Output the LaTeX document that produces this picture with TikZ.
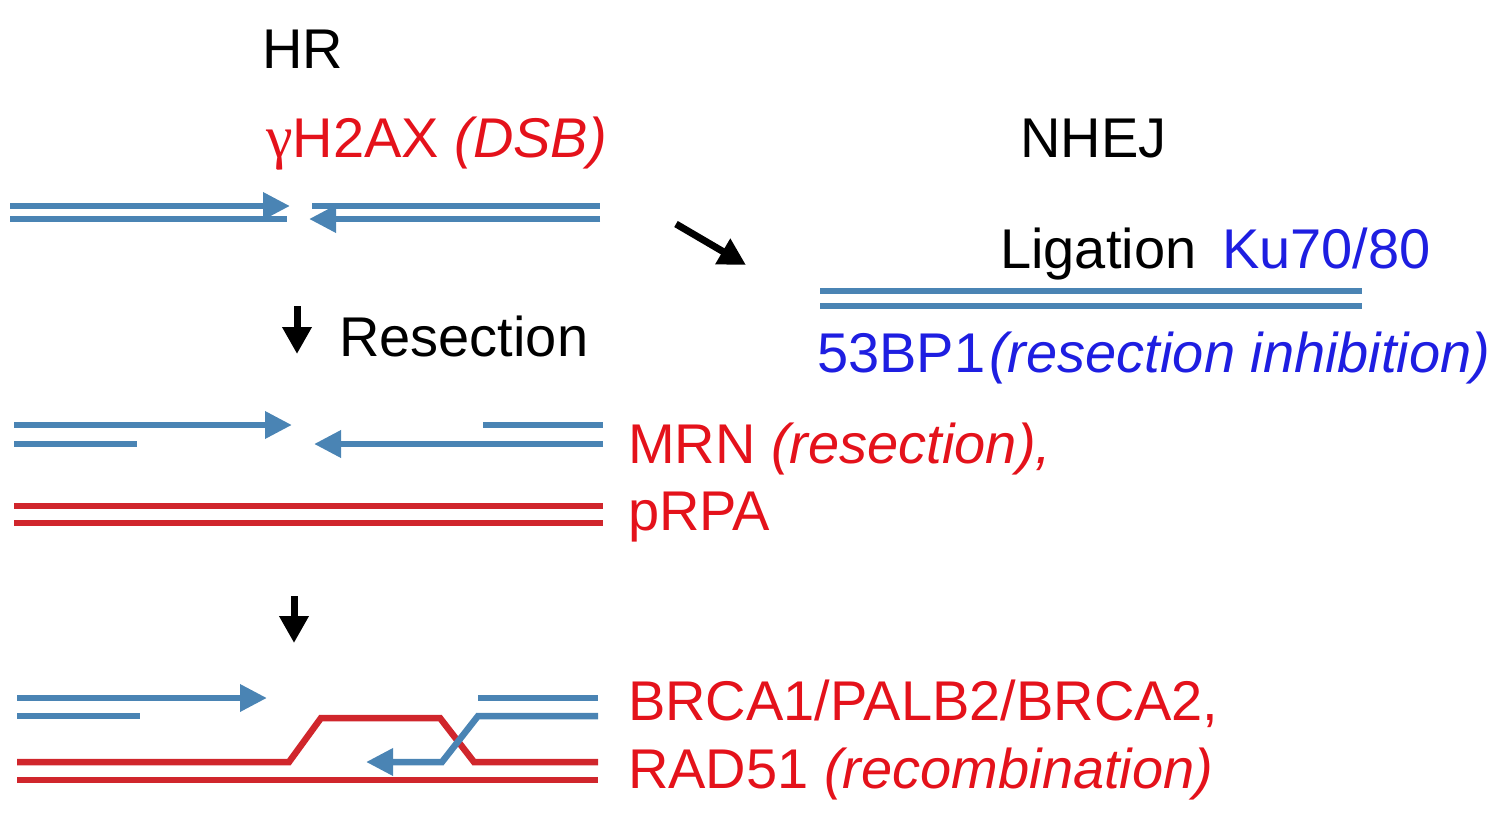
\documentclass[tikz,border=0pt]{standalone}
\usepackage{fontspec}
\setmainfont{Liberation Sans}
\newfontfamily\gfont{Liberation Serif}
\usetikzlibrary{arrows.meta}
\definecolor{dnablue}{RGB}{74,132,180}
\definecolor{dnared}{RGB}{208,38,44}
\definecolor{txtred}{RGB}{228,18,27}
\definecolor{txtblue}{RGB}{30,30,225}
\tikzset{
  lbl/.style={inner sep=0pt, anchor=base west, font=\fontsize{56}{60}\selectfont},
  bstrand/.style={draw=dnablue, line width=6.5pt},
  rstrand/.style={draw=dnared, line width=6.5pt, line join=miter},
  bhead/.style={-{Triangle[length=27pt,width=26pt]}},
  flow/.style={draw=black, line width=7pt, -{Triangle[length=27pt,width=28pt]}}
}
\begin{document}
\begin{tikzpicture}[x=1pt,y=-1pt]
\useasboundingbox (0,0) rectangle (1500,819);
% texts
\node[lbl] (hr) at (262,68) {HR};
\node[lbl, text=txtred] (dsb) at (266,157) {{\gfont\fontsize{60}{60}\selectfont γ}H2AX \textit{(DSB)}};
\node[lbl] (nhej) at (1020,157) {NHEJ};
\node[lbl] (lig) at (1000,268) {Ligation};
\node[lbl, text=txtblue] (ku) at (1222,268) {Ku70/80};
\node[lbl, text=txtblue] (bp) at (817,372) {53BP1\kern4pt\textit{(resection inhibition)}};
\node[lbl] (res) at (339,356) {Resection};
\node[lbl, text=txtred] (mrn) at (628,463) {MRN \textit{(resection),}};
\node[lbl, text=txtred] (rpa) at (628,530) {pRPA};
\node[lbl, text=txtred] (brca) at (628,720) {BRCA1/PALB2/BRCA2,};
\node[lbl, text=txtred] (rad) at (628,788) {RAD51 \textit{(recombination)}};
% stage 1: DSB
\draw[bstrand, bhead] (10,206) -- (290,206);
\draw[bstrand] (10,219) -- (287,219);
\draw[bstrand] (312,206) -- (600,206);
\draw[bstrand, bhead] (600,219) -- (309,219);
% arrows
\coordinate (a1s) at (297,306);
\coordinate (a1e) at (297,354);
\draw[flow] (a1s) -- (a1e);
\coordinate (a2s) at (294,596);
\coordinate (a2e) at (294,643);
\draw[flow] (a2s) -- (a2e);
\coordinate (d1s) at (676,224);
\coordinate (d1e) at (746,265);
\draw[flow] (d1s) -- (d1e);
% NHEJ duplex
\draw[bstrand] (820,291) -- (1362,291);
\draw[bstrand] (820,306) -- (1362,306);
% stage 2: resection
\draw[bstrand, bhead] (14,425) -- (292,425);
\draw[bstrand] (14,444) -- (137,444);
\draw[bstrand] (483,425) -- (603,425);
\draw[bstrand, bhead] (603,444) -- (314,444);
\draw[rstrand] (14,506) -- (603,506);
\draw[rstrand] (14,523) -- (603,523);
% stage 3: recombination
\draw[bstrand, bhead] (17,698) -- (267,698);
\draw[bstrand] (17,716) -- (140,716);
\draw[bstrand] (478,698) -- (598,698);
\draw[rstrand] (17,762) -- (289,762) -- (321,718) -- (440,718) -- (474,762) -- (598,762);
\draw[rstrand] (17,780) -- (598,780);
\draw[bstrand, bhead, line join=miter] (598,716) -- (478,716) -- (442,762) -- (366,762);
\end{tikzpicture}
\end{document}
